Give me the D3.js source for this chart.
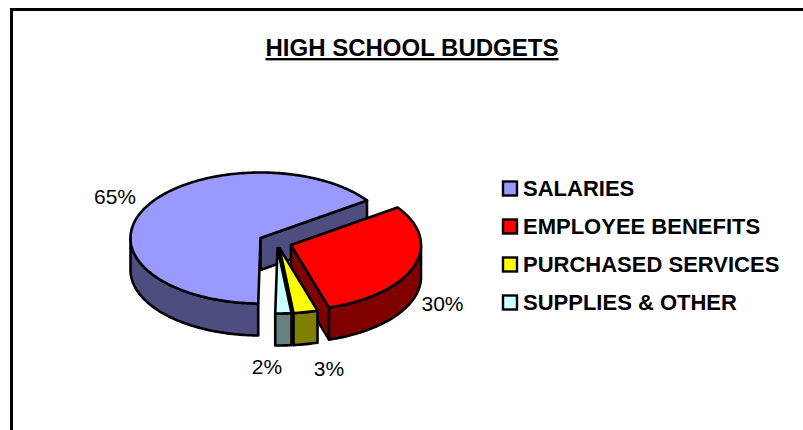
<!DOCTYPE html>
<html><head><meta charset="utf-8">
<script src="https://cdn.jsdelivr.net/npm/d3@7"></script>
<style>html,body{margin:0;padding:0;background:#fff}svg{display:block}text{font-family:"Liberation Sans",Arial,sans-serif;fill:#000}</style>
</head><body><svg id="c" width="803" height="430"></svg>
<script>
const categories = ["SALARIES","EMPLOYEE BENEFITS","PURCHASED SERVICES","SUPPLIES & OTHER"];
const values = [65,30,3,2];
const topColors = ["#9999FF","#FF0000","#FFFF00","#CCFFFF"];
const sideColors = ["#4D4D80","#800000","#808000","#668080"];
const title = "HIGH SCHOOL BUDGETS";

const svg = d3.select("#c");
const cx=260.5, cy=238, rx=130, ry=65.5, depth=32;
const offsets=[[0,0],[30.5,7],[19,10],[17,10]];
const labelPos=[[115,204],[442.5,311],[329,376],[267,374]];

svg.append("rect").attr("x",11.5).attr("y",9.5).attr("width",900).attr("height",600)
   .attr("fill","none").attr("stroke","#000").attr("stroke-width",3);

const start=181*Math.PI/180;
const arcs=d3.pie().sort(null).startAngle(start).endAngle(start+2*Math.PI)(values);
const xs=d3.scaleLinear().domain([-1,1]).range([-rx,rx]);
const ys=d3.scaleLinear().domain([-1,1]).range([-ry,ry]);
const pt=(a,ox,oy,dz=0)=>[ox+xs(Math.sin(a)),oy+ys(-Math.cos(a))+dz];
const line=d3.line();
const samp=(a0,a1)=>{const n=Math.max(2,Math.ceil(Math.abs(a1-a0)/0.02));return d3.range(n+1).map(i=>a0+(a1-a0)*i/n);};

arcs.forEach((d,i)=>{
  const ox=cx+offsets[i][0], oy=cy+offsets[i][1];
  const g=svg.append("g").attr("stroke","#000").attr("stroke-width",2.6).attr("stroke-linejoin","round");
  const ea=d.endAngle, norm=((ea%(2*Math.PI))+2*Math.PI)%(2*Math.PI);
  if(norm<Math.PI){
    const e=pt(ea,ox,oy);
    g.append("path").attr("fill",sideColors[i]).attr("d",line([[ox,oy],e,[e[0],e[1]+depth],[ox,oy+depth]])+"Z");
  }
  const lo=Math.PI/2, hi=3*Math.PI/2;
  const segs=[];
  [0,2*Math.PI].forEach(k=>{
    const a0=Math.max(d.startAngle,lo+k), a1=Math.min(d.endAngle,hi+k);
    if(a1>a0)segs.push([a0,a1]);
  });
  segs.forEach(([a0,a1])=>{
    const as=samp(a0,a1);
    const p=as.map(a=>pt(a,ox,oy)).concat(as.slice().reverse().map(a=>pt(a,ox,oy,depth)));
    g.append("path").attr("fill",sideColors[i]).attr("d",line(p)+"Z");
  });
  const tp=[[ox,oy]].concat(samp(d.startAngle,d.endAngle).map(a=>pt(a,ox,oy)));
  g.append("path").attr("fill",topColors[i]).attr("d",line(tp)+"Z");
});

svg.selectAll("text.pct").data(values).join("text").attr("class","pct")
  .attr("x",(d,i)=>labelPos[i][0]).attr("y",(d,i)=>labelPos[i][1])
  .attr("text-anchor","middle").attr("font-size",21).text(d=>d+"%");

svg.append("text").attr("x",412).attr("y",56).attr("text-anchor","middle")
  .attr("font-size",24).attr("font-weight","bold").attr("text-decoration","underline").text(title);

const ly=d3.scalePoint().domain(categories).range([188.5,302.5]);
const lg=svg.selectAll("g.leg").data(categories).join("g").attr("class","leg")
  .attr("transform",d=>`translate(0,${ly(d)})`);
lg.append("rect").attr("x",503).attr("y",-7).attr("width",14).attr("height",14)
  .attr("fill",(d,i)=>topColors[i]).attr("stroke","#000").attr("stroke-width",2.4);
lg.append("text").attr("x",523).attr("y",7.5).attr("font-size",22).attr("font-weight","bold").text(d=>d);
</script></body></html>
